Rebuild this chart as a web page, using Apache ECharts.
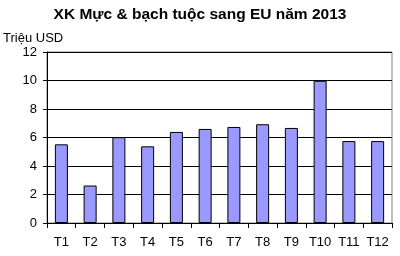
<!DOCTYPE html>
<html><head><meta charset="utf-8">
<script src="https://cdn.jsdelivr.net/npm/echarts@6/dist/echarts.min.js"></script>
<style>html,body{margin:0;padding:0;background:#fff}#c{width:400px;height:256px}</style>
</head><body><div id="c"></div>
<script>
var categories = ['T1','T2','T3','T4','T5','T6','T7','T8','T9','T10','T11','T12'];
var values = [5.52, 2.63, 6.02, 5.38, 6.39, 6.6, 6.74, 6.93, 6.67, 9.98, 5.75, 5.75];
var yTicks = [0, 2, 4, 6, 8, 10, 12];
var chart = echarts.init(document.getElementById('c'));
var font = 'Liberation Sans, Arial, sans-serif';
chart.setOption({
  animation: false,
  title: {text: 'XK Mực & bạch tuộc sang EU năm 2013', left: 'center', top: 2,
    textStyle: {fontFamily: font, fontSize: 15.5, fontWeight: 'bold', color: '#000'}},
  grid: {left: 43, right: 8, top: 52, bottom: 33, show: true, borderColor: '#808080', borderWidth: 1},
  xAxis: {type: 'category', data: categories,
    axisLine: {lineStyle: {color: '#000'}},
    axisTick: {show: true, length: 5, lineStyle: {color: '#000'}},
    axisLabel: {fontFamily: font, fontSize: 13, color: '#000', margin: 13, interval: 0}},
  yAxis: {type: 'value', min: yTicks[0], max: yTicks[yTicks.length-1], interval: 2,
    name: 'Triệu USD', nameLocation: 'end', nameGap: 7,
    nameTextStyle: {fontFamily: font, fontSize: 13, color: '#000', align: 'left', padding: [0,0,0,-44]},
    axisLine: {show: true, lineStyle: {color: '#000'}},
    axisTick: {show: true, length: 4, lineStyle: {color: '#000'}},
    axisLabel: {fontFamily: font, fontSize: 13, color: '#000', margin: 10},
    splitLine: {lineStyle: {color: '#000', width: 1}}},
  series: [{type: 'bar', data: values, barWidth: 13,
    itemStyle: {color: '#9999FF', borderColor: '#000', borderWidth: 1}}]
});
</script></body></html>
